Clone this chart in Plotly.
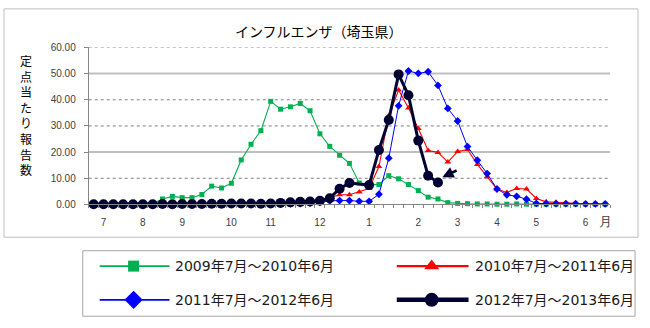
import plotly.graph_objects as go

W, H = 650, 328

# ---------------- data ----------------
weeks = list(range(53))
month_idx = [1, 5, 9, 14, 18, 23, 28, 33, 37, 41, 45, 50, 52]
month_txt = ['7', '8', '9', '10', '11', '12', '1', '2', '3', '4', '5', '6', '月']

names = ['2009年7月～2010年6月', '2010年7月～2011年6月',
         '2011年7月～2012年6月', '2012年7月～2013年6月']

s2009 = [0.1, 0.1, 0.1, 0.1, 0.1, 0.2, 0.4, 2.1, 3.1, 2.6,
         2.6, 3.8, 7.0, 6.3, 8.1, 17.0, 23.0, 28.2, 39.4, 36.4,
         37.3, 38.6, 35.8, 27.0, 22.2, 18.8, 15.7, 8.2, 7.6, 7.6,
         11.0, 9.8, 7.6, 5.3, 2.8, 2.1, 0.7, 0.4, 0.3, 0.2,
         0.2, 0.1, 0.1, 0.2, 0.1, 0.1, 0.1, 0.1, 0.1, 0.1,
         0.1, 0.1, 0.1]
s2010 = [0.1, 0.1, 0.1, 0.1, 0.1, 0.1, 0.1, 0.1, 0.1, 0.1,
         0.1, 0.1, 0.2, 0.2, 0.2, 0.2, 0.3, 0.3, 0.3, 0.3,
         0.4, 0.6, 0.9, 1.5, 2.6, 3.7, 3.7, 4.8, 6.1, 14.5,
         34.0, 43.7, 36.9, 29.0, 20.6, 19.9, 16.2, 20.2, 21.0, 15.3,
         10.6, 5.9, 4.6, 6.1, 5.9, 2.3, 1.0, 0.8, 0.5, 0.4,
         0.3, 0.2, 0.2]
s2011 = [0.1, 0.1, 0.1, 0.1, 0.1, 0.1, 0.1, 0.1, 0.1, 0.1,
         0.1, 0.1, 0.1, 0.1, 0.1, 0.2, 0.2, 0.2, 0.2, 0.2,
         0.2, 0.3, 0.5, 0.8, 1.4, 1.5, 1.5, 1.2, 1.2, 3.9,
         17.7, 37.7, 51.0, 50.1, 50.7, 45.5, 36.7, 31.9, 22.1, 16.9,
         11.8, 5.9, 3.7, 3.1, 2.0, 0.4, 0.3, 0.3, 0.3, 0.3,
         0.2, 0.2, 0.2]
s2012 = [0.1, 0.1, 0.1, 0.1, 0.1, 0.1, 0.1, 0.2, 0.1, 0.2,
         0.2, 0.2, 0.3, 0.3, 0.4, 0.4, 0.4, 0.3, 0.4, 0.6,
         0.8, 1.0, 1.1, 1.4, 2.4, 6.0, 8.2, None, 7.4, 20.8,
         32.3, 49.7, 41.7, 24.4, 11.0, 8.4, None, None, None, None,
         None, None, None, None, None, None, None, None, None, None,
         None, None, None]

y_ticks = [0, 10, 20, 30, 40, 50, 60]
y_title = '定点当たり報告数'
title = 'インフルエンザ（埼玉県）'

# ---------------- styles ----------------
GREEN, RED, BLUE, NAVY = '#00B050', '#FF0000', '#0000FF', '#000033'
styles = [
    dict(color=GREEN, lw=1.1, sym='square', ms=5, lms=11, llw=1.8),
    dict(color=RED, lw=1.1, sym='triangle-up', ms=6, lms=13, llw=2.2),
    dict(color=BLUE, lw=1.0, sym='diamond', ms=6, lms=14, llw=1.8),
    dict(color=NAVY, lw=3, sym='circle', ms=10, lms=14, llw=4.5),
]


def px(x):
    return x / W


def py(y):
    return 1 - y / H


fig = go.Figure()

for data, name, st in zip([s2009, s2010, s2011, s2012], names, styles):
    fig.add_trace(go.Scatter(
        x=weeks, y=data, name=name, mode='lines+markers',
        connectgaps=True, cliponaxis=False, showlegend=False,
        line=dict(color=st['color'], width=st['lw']),
        marker=dict(symbol=st['sym'], size=st['ms'], color=st['color'],
                    line=dict(width=0)),
        xaxis='x', yaxis='y'))

# ---------- manual legend (pixel-space hidden axes) ----------
leg_cols = [(100, 170), (398, 470), (100, 170), (398, 470)]
leg_rows = [270, 270, 305, 305]
for (x0, x1), yy, st, name in zip(leg_cols, leg_rows, styles, names):
    fig.add_trace(go.Scatter(
        x=[x0, x1], y=[yy, yy], mode='lines', showlegend=False,
        line=dict(color=st['color'], width=st['llw']),
        xaxis='x2', yaxis='y2', hoverinfo='skip'))
    fig.add_trace(go.Scatter(
        x=[(x0 + x1) / 2 - 1], y=[yy], mode='markers', showlegend=False,
        marker=dict(symbol=st['sym'], size=st['lms'], color=st['color'],
                    line=dict(width=0)),
        xaxis='x2', yaxis='y2', hoverinfo='skip'))
    fig.add_annotation(x=px(x1 + 4), y=py(yy), xref='paper', yref='paper',
                       text=name, showarrow=False, xanchor='left',
                       yanchor='middle',
                       font=dict(family='DejaVu Sans, Noto Sans CJK JP',
                                 size=14, color='#1a1a1a'))

# ---------- gridlines ----------
shapes = []
for v in y_ticks[1:]:
    solid = v in (20, 50)
    shapes.append(dict(
        type='line', xref='paper', yref='y', x0=px(89), x1=px(612),
        y0=v, y1=v, layer='below',
        line=dict(color='#C0C0C0' if solid else '#7F7F7F',
                  width=2 if solid else 1,
                  dash='solid' if solid else 'dot')))
# outer chart border and legend box
shapes.append(dict(type='rect', xref='paper', yref='paper',
                   x0=px(4), x1=px(640), y0=py(3), y1=py(240),
                   line=dict(color='#BFBFBF', width=1), layer='below'))
shapes.append(dict(type='rect', xref='paper', yref='paper',
                   x0=px(83), x1=px(637), y0=py(254), y1=py(322),
                   line=dict(color='#A6A6A6', width=1), layer='below'))

# title
fig.add_annotation(x=px(320), y=py(26), xref='paper', yref='paper',
                   text=title, showarrow=False, xanchor='center',
                   yanchor='middle',
                   font=dict(family='Noto Sans CJK JP', size=14, color='#000000'))
# y-axis title (stacked vertical)
fig.add_annotation(x=px(26), y=py(113), xref='paper', yref='paper',
                   text='<br>'.join(list(y_title)), showarrow=False,
                   xanchor='center', yanchor='middle',
                   font=dict(family='Noto Sans CJK JP', size=12, color='#000000'))
# arrow pointing at latest value
fig.add_annotation(x=35.45, y=10.4, ax=37.05, ay=13.25, xref='x', yref='y',
                   axref='x', ayref='y', text='', showarrow=True,
                   arrowhead=2, arrowsize=0.9, arrowwidth=2.5,
                   arrowcolor=NAVY)

tickfont = dict(family='Liberation Sans, Arial', size=10, color='#404040')
ticktext = [t if t != '月' else '<span style="font-size:13px">月</span>'
            for t in month_txt]

fig.update_layout(
    width=W, height=H, margin=dict(l=0, r=0, t=0, b=0),
    paper_bgcolor='white', plot_bgcolor='rgba(0,0,0,0)',
    showlegend=False, shapes=shapes,
    xaxis=dict(domain=[px(89), px(612)], range=[-0.5, 52.5],
               tickmode='array', tickvals=month_idx, ticktext=ticktext,
               ticks='', showgrid=False, zeroline=False,
               showline=True, linecolor='#868686', linewidth=1,
               tickfont=tickfont, ticklabelstandoff=9,
               minor=dict(tickmode='linear', tick0=-0.5, dtick=1,
                          ticks='outside', ticklen=3, tickcolor='#868686',
                          showgrid=False),
               anchor='y', fixedrange=True),
    yaxis=dict(domain=[py(206), py(43)], range=[0, 60],
               tickmode='array', tickvals=y_ticks,
               ticktext=['%.2f' % v for v in y_ticks],
               ticks='outside', ticklen=4, tickcolor='#868686',
               showgrid=False, zeroline=False, showline=True,
               linecolor='#868686', linewidth=1, tickfont=tickfont,
               ticklabelstandoff=6, anchor='x', fixedrange=True),
    xaxis2=dict(domain=[0, 1], range=[0, W], visible=False,
                anchor='y2', fixedrange=True),
    yaxis2=dict(domain=[0, 1], range=[H, 0], visible=False,
                anchor='x2', fixedrange=True),
)

fig.write_html('out.html')
